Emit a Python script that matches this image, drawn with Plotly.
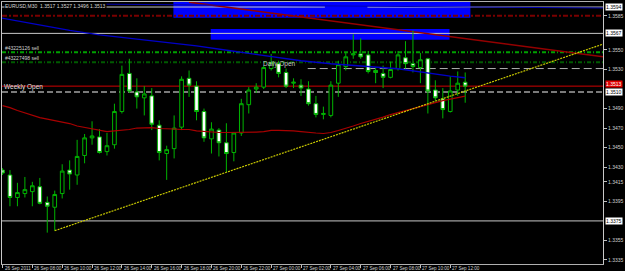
import plotly.graph_objects as go

# ---------------- data ----------------
bars = list(range(63))  # M30 bars, bar 0 = 26 Sep 2011 06:00
opens = [1.3427, 1.3422, 1.3399, 1.3403, 1.3405, 1.3410, 1.3394, 1.3389, 1.3403, 1.3427,
         1.3422, 1.3442, 1.3460, 1.3461, 1.3446, 1.3453, 1.3487, 1.3526, 1.3507, 1.3501,
         1.3503, 1.3473, 1.3444, 1.3449, 1.3471, 1.3521, 1.3513, 1.3487, 1.3459, 1.3468,
         1.3455, 1.3445, 1.3465, 1.3494, 1.3510, 1.3512, 1.3531, 1.3536, 1.3527, 1.3516,
         1.3514, 1.3510, 1.3495, 1.3484, 1.3483, 1.3516, 1.3533, 1.3545, 1.3546, 1.3545,
         1.3529, 1.3526, 1.3522, 1.3531, 1.3542, 1.3536, 1.3532, 1.3541, 1.3509, 1.3500,
         1.3487, 1.3509, 1.3517]
highs = [1.3429, 1.3427, 1.3414, 1.3420, 1.3415, 1.3419, 1.3400, 1.3406, 1.3433, 1.3437,
         1.3458, 1.3464, 1.3477, 1.3469, 1.3465, 1.3495, 1.3534, 1.3541, 1.3521, 1.3513,
         1.3511, 1.3478, 1.3452, 1.3483, 1.3523, 1.3529, 1.3518, 1.3490, 1.3476, 1.3470,
         1.3475, 1.3466, 1.3500, 1.3512, 1.3516, 1.3534, 1.3546, 1.3539, 1.3531, 1.3521,
         1.3520, 1.3518, 1.3503, 1.3492, 1.3518, 1.3539, 1.3547, 1.3566, 1.3562, 1.3549,
         1.3532, 1.3534, 1.3538, 1.3549, 1.3559, 1.3570, 1.3547, 1.3542, 1.3519, 1.3511,
         1.3523, 1.3528, 1.3527]
lows = [1.3422, 1.3390, 1.3390, 1.3399, 1.3390, 1.3392, 1.3363, 1.3365, 1.3398, 1.3407,
        1.3412, 1.3434, 1.3453, 1.3444, 1.3442, 1.3449, 1.3485, 1.3506, 1.3490, 1.3483,
        1.3468, 1.3437, 1.3417, 1.3439, 1.3468, 1.3502, 1.3478, 1.3456, 1.3444, 1.3441,
        1.3425, 1.3436, 1.3462, 1.3485, 1.3506, 1.3510, 1.3529, 1.3522, 1.3511, 1.3511,
        1.3503, 1.3493, 1.3481, 1.3479, 1.3481, 1.3502, 1.3529, 1.3541, 1.3541, 1.3526,
        1.3516, 1.3511, 1.3521, 1.3529, 1.3531, 1.3527, 1.3516, 1.3485, 1.3498, 1.3480,
        1.3486, 1.3503, 1.3496]
closes = [1.3424, 1.3399, 1.3404, 1.3407, 1.3411, 1.3393, 1.3390, 1.3402, 1.3426, 1.3423,
          1.3441, 1.3460, 1.3462, 1.3445, 1.3452, 1.3487, 1.3525, 1.3508, 1.3502, 1.3505,
          1.3474, 1.3445, 1.3448, 1.3470, 1.3520, 1.3514, 1.3487, 1.3460, 1.3469, 1.3455,
          1.3444, 1.3465, 1.3495, 1.3509, 1.3512, 1.3532, 1.3537, 1.3526, 1.3513, 1.3517,
          1.3511, 1.3495, 1.3484, 1.3485, 1.3514, 1.3535, 1.3543, 1.3546, 1.3543, 1.3528,
          1.3527, 1.3522, 1.3530, 1.3545, 1.3536, 1.3533, 1.3540, 1.3508, 1.3501, 1.3489,
          1.3508, 1.3516, 1.3513]

ma_red = [1.34931, 1.34910, 1.34880, 1.34854, 1.34829, 1.34808, 1.34793, 1.34778, 1.34762, 1.34747,
          1.34722, 1.34706, 1.34691, 1.34676, 1.34665, 1.34671, 1.34676, 1.34686, 1.34701, 1.34706,
          1.34706, 1.34696, 1.34696, 1.34691, 1.34686, 1.34686, 1.34671, 1.34665, 1.34660, 1.34655,
          1.34655, 1.34655, 1.34655, 1.34655, 1.34660, 1.34665, 1.34676, 1.34676, 1.34676, 1.34671,
          1.34665, 1.34655, 1.34650, 1.34645, 1.34655, 1.34676, 1.34696, 1.34722, 1.34747, 1.34767,
          1.34788, 1.34813, 1.34839, 1.34859, 1.34885, 1.34905, 1.34926, 1.34941, 1.34961, 1.34982,
          1.34997, 1.35012, 1.35028]

blue_bars = [-0.4, 4, 9, 13, 20, 26, 31, 35, 40, 44, 47, 53, 60, 62]
blue_vals = [1.35830, 1.35767, 1.35701, 1.35655, 1.35594, 1.35543, 1.35487, 1.35441,
             1.35390, 1.35359, 1.35344, 1.35308, 1.35232, 1.35216]

time_ticks = [0, 4, 8, 12, 16, 20, 24, 28, 32, 36, 40, 44, 48, 52, 56, 60]
time_labels = ["26 Sep 2011", "26 Sep 08:00", "26 Sep 10:00", "26 Sep 12:00", "26 Sep 14:00",
               "26 Sep 16:00", "26 Sep 18:00", "26 Sep 20:00", "26 Sep 22:00", "27 Sep 00:00",
               "27 Sep 02:00", "27 Sep 04:00", "27 Sep 06:00", "27 Sep 08:00", "27 Sep 10:00",
               "27 Sep 12:00"]

price_ticks = [1.3585, 1.3550, 1.3530, 1.3490, 1.3470, 1.3450, 1.3430, 1.3415, 1.3395, 1.3355, 1.3335]
price_labels = ["1.3585", "1.3550", "1.3530", "1.3490", "1.3470", "1.3450", "1.3430",
                "1.3415", "1.3395", "1.3355", "1.3335"]

level_high = 1.3594      # white line
level_res = 1.3567       # white line
level_red_dash = 1.3585  # dark red dash-dot
order1_price = 1.35476   # #43225126 sell
order2_price = 1.35374   # #43227498 sell
daily_open = 1.3531
bid_price = 1.3513
weekly_open = 1.3507
level_low = 1.3375

trend_yellow_bars = [7, 80.47]
trend_yellow_vals = [1.3365, 1.3556]
trend_red_bars = [25, 80.47]
trend_red_vals = [1.3599, 1.3543]
trend_blue_bars = [11.7, 80.47]
trend_blue_vals = [1.3597, 1.3593]

zone_a = dict(b0=22.9, b1=62.7, p0=1.3583, p1=1.3610)
zone_b = dict(b0=27.9, b1=59.9, p0=1.35604, p1=1.35716)

title_text = "EURUSD,M30  1.3517 1.3527 1.3496 1.3513"

# ---------------- styling ----------------
GREEN = "#00b400"
FONT = "Liberation Sans"
XMIN, XMAX = -0.067, 80.467
YMIN, YMAX = 1.333088, 1.359914

fig = go.Figure()

fig.add_trace(go.Candlestick(
    x=bars, open=opens, high=highs, low=lows, close=closes,
    increasing=dict(line=dict(color=GREEN, width=1), fillcolor="black"),
    decreasing=dict(line=dict(color=GREEN, width=1), fillcolor="white"),
    whiskerwidth=0, showlegend=False, hoverinfo="skip"))

fig.add_trace(go.Scatter(x=bars, y=ma_red, mode="lines",
                         line=dict(color="#a80000", width=1.2),
                         showlegend=False, hoverinfo="skip"))
fig.add_trace(go.Scatter(x=blue_bars, y=blue_vals, mode="lines",
                         line=dict(color="#0000c8", width=1.3),
                         showlegend=False, hoverinfo="skip"))

shapes = []
# blue zones
for z in (zone_a, zone_b):
    shapes.append(dict(type="rect", xref="x", yref="y", x0=z["b0"], x1=z["b1"],
                       y0=z["p0"], y1=z["p1"], fillcolor="#0000ff",
                       line=dict(width=0), layer="below"))


def hline(price, color, width, dash="solid", x0=XMIN, x1=XMAX, layer="below"):
    shapes.append(dict(type="line", xref="x", yref="y", x0=x0, x1=x1, y0=price, y1=price,
                       line=dict(color=color, width=width, dash=dash), layer=layer))


hline(level_high, "#c8c8c8", 1, x1=43.2)
hline(level_high, "#c8c8c8", 1, x0=48.9)
hline(level_red_dash, "#7a0000", 2, "5px,2px,2px,2px")
hline(level_res, "#c8c8c8", 1)
hline(order1_price, "#00a000", 2, "4px,2px,1px,2px")
hline(order2_price, "#005a00", 2, "4px,2px,1px,2px")
hline(daily_open, "#b0b0b0", 1, "8px,4px", x0=40.9)
hline(bid_price, "#d00000", 1)
hline(weekly_open, "#7a7a7a", 2, "6px,3px")
hline(level_low, "#c8c8c8", 1)

# trend lines
shapes.append(dict(type="line", xref="x", yref="y",
                   x0=trend_red_bars[0], x1=trend_red_bars[1],
                   y0=trend_red_vals[0], y1=trend_red_vals[1],
                   line=dict(color="#940000", width=1.6), layer="below"))
shapes.append(dict(type="line", xref="x", yref="y",
                   x0=trend_blue_bars[0], x1=trend_blue_bars[1],
                   y0=trend_blue_vals[0], y1=trend_blue_vals[1],
                   line=dict(color="#0000b0", width=1), layer="below"))
shapes.append(dict(type="line", xref="x", yref="y",
                   x0=trend_yellow_bars[0], x1=trend_yellow_bars[1],
                   y0=trend_yellow_vals[0], y1=trend_yellow_vals[1],
                   line=dict(color="#c8c800", width=1.2, dash="2px,1px"), layer="above"))

annotations = []
# title
annotations.append(dict(xref="paper", yref="paper", x=0, y=1, xanchor="left", yanchor="top",
                        xshift=2, yshift=0, text=title_text, showarrow=False, bgcolor="black",
                        borderpad=0, font=dict(family=FONT, size=5, color="#d8d8d8")))
# object labels
for txt, price in (("#43225126 sell", order1_price), ("#43227498 sell", order2_price)):
    annotations.append(dict(xref="paper", yref="y", x=0, y=price, xanchor="left",
                            yanchor="bottom", xshift=2, yshift=0, text=txt, showarrow=False,
                            borderpad=0, font=dict(family=FONT, size=5, color="#d0d0d0")))
annotations.append(dict(xref="paper", yref="y", x=0, y=weekly_open, xanchor="left",
                        yanchor="bottom", xshift=1, yshift=0, text="Weekly Open", showarrow=False,
                        borderpad=0, font=dict(family=FONT, size=6.5, color="#e0e0e0")))
annotations.append(dict(xref="x", yref="y", x=34.8, y=daily_open, xanchor="left",
                        yanchor="bottom", yshift=0, text="Daily Open", showarrow=False,
                        borderpad=0, font=dict(family=FONT, size=6.5, color="#c8c8c8")))
# time labels (left aligned after tick like MT4)
for b, lab in zip(time_ticks, time_labels):
    annotations.append(dict(xref="x", yref="paper", x=b, y=0, xanchor="left", yanchor="top",
                            xshift=1, yshift=-1, text=lab, showarrow=False, borderpad=0,
                            font=dict(family=FONT, size=4.6, color="#d0d0d0")))
# price boxes on the axis
for price, txt, bg, fg in ((level_high, "1.3594", "white", "black"),
                           (level_res, "1.3567", "white", "black"),
                           (weekly_open, "1.3510", "white", "black"),
                           (bid_price + 0.0002, "1.3513", "#e00000", "white"),
                           (level_low, "1.3375", "white", "black")):
    annotations.append(dict(xref="paper", yref="y", x=1, y=price, xanchor="left",
                            yanchor="middle", xshift=2, text=txt, showarrow=False,
                            bgcolor=bg, borderpad=0,
                            font=dict(family=FONT, size=5, color=fg)))

fig.update_layout(
    width=625, height=271,
    margin=dict(l=2, r=19, t=1, b=7),
    paper_bgcolor="black", plot_bgcolor="black",
    shapes=shapes, annotations=annotations,
    showlegend=False,
    xaxis=dict(range=[XMIN, XMAX], showgrid=False, zeroline=False, rangeslider=dict(visible=False),
               tickmode="array", tickvals=time_ticks, showticklabels=False,
               ticks="outside", ticklen=3, tickcolor="#c0c0c0",
               showline=True, linecolor="#b0b0b0", linewidth=1, mirror=True),
    yaxis=dict(range=[YMIN, YMAX], side="right", showgrid=False, zeroline=False,
               tickmode="array", tickvals=price_ticks, ticktext=price_labels,
               ticks="outside", ticklen=3, tickcolor="#c0c0c0",
               tickfont=dict(family=FONT, size=5, color="#d0d0d0"),
               showline=True, linecolor="#c8c8c8", linewidth=1, mirror=True),
)

fig.write_html("out.html")
